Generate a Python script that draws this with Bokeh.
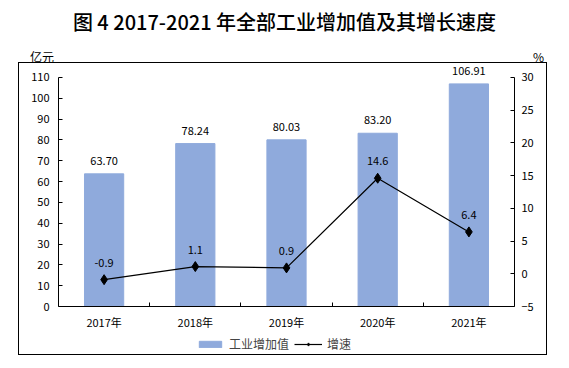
from bokeh.plotting import figure
from bokeh.models import (Range1d, LinearAxis, FixedTicker, ColumnDataSource,
                          LabelSet, Legend, LegendItem, Div, Spacer)
from bokeh.layouts import column, row
from bokeh.core.properties import value
from bokeh.embed import file_html
from bokeh.resources import INLINE

years = ["2017年", "2018年", "2019年", "2020年", "2021年"]
added_value = [63.70, 78.24, 80.03, 83.20, 106.91]
growth = [-0.9, 1.1, 0.9, 14.6, 6.4]
left_ticks = list(range(0, 111, 10))
right_ticks = list(range(-5, 31, 5))
title_text = "图 4 2017-2021 年全部工业增加值及其增长速度"
left_unit = "亿元"
right_unit = "%"

FONT = "Noto Sans CJK SC"
BAR_COLOR = "#8FAADC"

xs = [i + 0.5 for i in range(len(years))]
src = ColumnDataSource(dict(
    x=xs, v=added_value, g=growth,
    vl=["%.2f" % v for v in added_value],
    gl=["%.1f" % g for g in growth],
))

# ---------- title + unit labels ----------
title_div = Div(width=569, height=62, styles={"margin": "0"}, text=f"""
<div style="position:relative;width:569px;height:62px;font-family:'{FONT}';color:black;">
  <div style="position:absolute;left:0;top:8px;width:569px;text-align:center;
              font-size:20px;font-weight:500;line-height:28px;">{title_text}</div>
  <div style="position:absolute;left:30px;top:49px;font-size:12px;line-height:16px;">{left_unit}</div>
  <div style="position:absolute;left:533px;top:49px;font-size:12px;line-height:16px;">{right_unit}</div>
</div>""")

# ---------- main chart ----------
FW = 529
L0, L1 = 0, 110          # left axis bounds
R0, R1 = -5, 30          # right axis bounds
HEAD = 14 / (230 / (L1 - L0))   # headroom above the 110 tick for the top value label
p = figure(width=FW, height=269, output_backend="svg", toolbar_location=None,
           x_range=Range1d(0, 5), y_range=Range1d(L0, L1 + HEAD),
           min_border_left=39, min_border_right=32, min_border_top=0, min_border_bottom=25)
p.extra_y_ranges = {"pct": Range1d(R0, R1 + HEAD * (R1 - R0) / (L1 - L0))}
p.grid.visible = False
p.outline_line_color = None
p.background_fill_color = "white"
p.border_fill_color = "white"

bars = p.vbar(x="x", top="v", width=0.43, source=src, color=BAR_COLOR)
line = p.line(x="x", y="g", source=src, y_range_name="pct", color="black", line_width=1.2)
pts = p.scatter(x="x", y="g", source=src, y_range_name="pct", marker="diamond",
                size=10, color="black")

p.add_layout(LabelSet(x="x", y="v", text="vl", source=src, text_align="center",
                      text_baseline="bottom", y_offset=9, text_font=value(FONT),
                      text_font_size="11px", text_color="black"))
p.add_layout(LabelSet(x="x", y="g", text="gl", source=src, y_range_name="pct",
                      text_align="center", text_baseline="bottom", y_offset=13,
                      text_font=value(FONT), text_font_size="11px", text_color="black"))

def style_axis(ax):
    ax.axis_line_color = "black"
    ax.major_tick_line_color = "black"
    ax.minor_tick_line_color = "black"
    ax.major_label_text_font = FONT
    ax.major_label_text_font_size = "11px"
    ax.major_label_text_color = "black"

xa = p.xaxis[0]
xa.ticker = FixedTicker(ticks=xs, minor_ticks=[1, 2, 3, 4])
xa.major_label_overrides = {x: y for x, y in zip(xs, years)}
xa.major_tick_in = 0
xa.major_tick_out = 0
xa.minor_tick_in = 4
xa.minor_tick_out = 0
xa.major_label_standoff = 7
style_axis(xa)

ya = p.yaxis[0]
ya.ticker = FixedTicker(ticks=left_ticks)
ya.bounds = (L0, L1)
ya.major_tick_in = 4
ya.major_tick_out = 0
ya.minor_tick_line_color = None
ya.major_label_standoff = 9
style_axis(ya)

ra = LinearAxis(y_range_name="pct", ticker=FixedTicker(ticks=right_ticks), bounds=(R0, R1))
ra.major_tick_in = 4
ra.major_tick_out = 0
ra.minor_tick_line_color = None
ra.major_label_standoff = 7
style_axis(ra)
p.add_layout(ra, "right")

# ---------- legend strip ----------
nan = float("nan")
blank = ColumnDataSource(dict(x=[nan], v=[nan], g=[nan]))
lg = figure(width=FW, height=22, output_backend="svg", toolbar_location=None,
            x_range=Range1d(0, 1), y_range=Range1d(0, 1),
            min_border_left=0, min_border_right=0, min_border_top=0, min_border_bottom=0)
lg.axis.visible = False
lg.grid.visible = False
lg.outline_line_color = None
lg.background_fill_color = "white"
lg.border_fill_color = "white"
lb = lg.vbar(x="x", top="v", width=0.43, source=blank, color=BAR_COLOR)
ll = lg.line(x="x", y="g", source=blank, color="black", line_width=1.2)
lp = lg.scatter(x="x", y="g", source=blank, marker="diamond", size=9, color="black")
legend = Legend(items=[LegendItem(label="工业增加值", renderers=[lb]),
                       LegendItem(label="增速", renderers=[ll, lp])],
                orientation="horizontal", location=(138, 2),
                label_text_font=FONT, label_text_font_size="12px",
                glyph_width=28, glyph_height=8, spacing=5, label_standoff=5,
                padding=2, margin=0, border_line_color=None, background_fill_alpha=0)
lg.add_layout(legend, "center")

box = column(p, lg, width=FW, styles={"border": "1px solid black", "margin": "0"})
layout = column(title_div, row(Spacer(width=18, height=10), box))

open("out.html", "w").write(file_html(layout, INLINE))
